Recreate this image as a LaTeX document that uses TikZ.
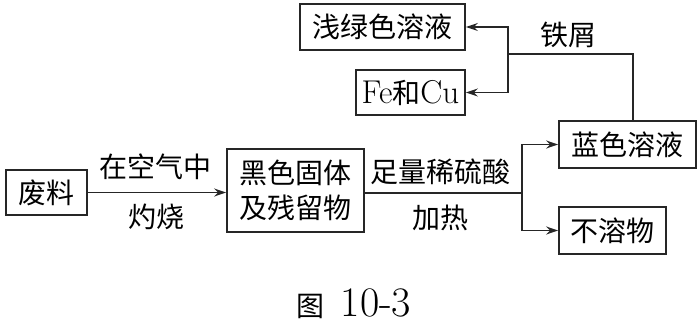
\documentclass[tikz,border=0pt]{standalone}
\usepackage{fontspec}
\newfontfamily\cjk{Noto Sans CJK SC}
\newcommand{\latn}[1]{{\rmfamily\fontsize{33}{36}\selectfont #1}}
\newcommand{\capnum}[1]{{\rmfamily\fontsize{42}{44}\selectfont #1}}
\usetikzlibrary{arrows.meta}
\begin{document}
\begin{tikzpicture}[x=1pt,y=-1pt,
  line width=1.7pt, draw=black!85,
  box/.style={draw=black!85, rectangle, inner sep=0pt, align=center, font=\cjk\fontsize{28}{35}\selectfont},
  lbl/.style={inner sep=0pt, font=\cjk\fontsize{28}{33}\selectfont},
  arr/.style={-{Stealth[length=12pt,width=8pt]}}]
\useasboundingbox (0,0) rectangle (700,323);
\node[box, minimum width=81pt, minimum height=45pt] (feiliao) at (46.5,192.5) {废料};
\node[box, minimum width=137pt, minimum height=83pt] (hei) at (295.5,190.5) {黑色固体\\及残留物};
\node[box, minimum width=137pt, minimum height=47pt] (lanse) at (627.5,144.5) {蓝色溶液};
\node[box, minimum width=107pt, minimum height=47pt] (burong) at (612.5,230.5) {不溶物};
\node[box, minimum width=165pt, minimum height=46pt] (qianlv) at (382.5,27) {浅绿色溶液};
\node[box, minimum width=109pt, minimum height=45pt] (fecu) at (410.5,92.5) {\latn{Fe}和\latn{Cu}};
\coordinate (br) at (522,193);
\coordinate (jb) at (508,54);
\coordinate (lt) at (633,121);
\draw[arr] (feiliao.east) -- (feiliao.east -| hei.west);
\draw (hei.east |- br) -- (br);
\draw[arr] (br) |- (lanse.west);
\draw[arr] (br) |- (burong.west);
\draw (lt) |- (jb);
\draw[arr] (jb) |- (qianlv.east);
\draw[arr] (jb) |- (fecu.east);
\node[lbl] (t1) at (155,167) {在空气中};
\node[lbl] (t2) at (156,217) {灼烧};
\node[lbl] (t3) at (440,172) {足量稀硫酸};
\node[lbl] (t4) at (440,218) {加热};
\node[lbl] (t5) at (568,35) {铁屑};
\node[lbl, anchor=base] (cap) at (354,316) {图\hspace{16pt}\capnum{10-3}};
\end{tikzpicture}
\end{document}
